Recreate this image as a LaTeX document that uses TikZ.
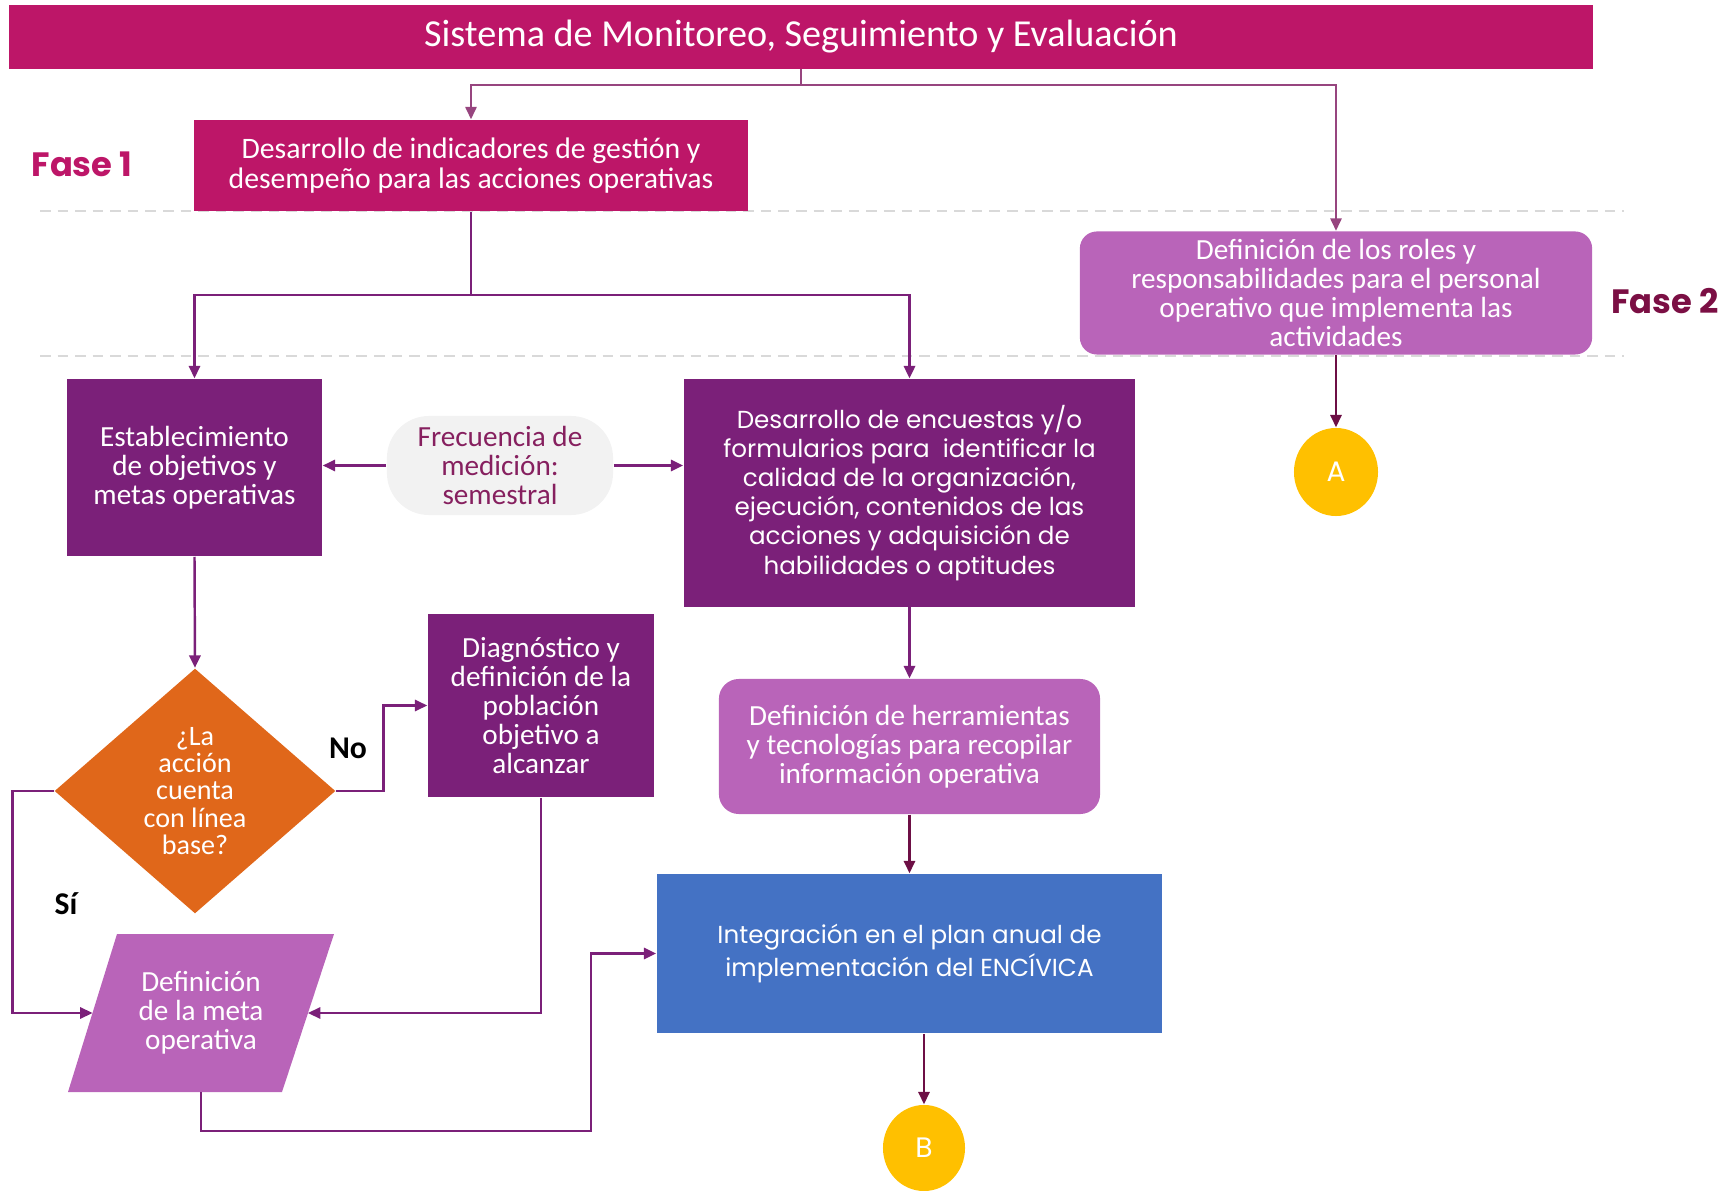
\documentclass[tikz,border=0pt]{standalone}
\usepackage{fontspec}
\setmainfont{Poppins}
\newfontfamily\narrowfont{Carlito}
\usetikzlibrary{shapes.geometric,arrows.meta}
\definecolor{magenta1}{HTML}{BD1668}
\definecolor{purple1}{HTML}{7B2079}
\definecolor{orchid1}{HTML}{B964B9}
\definecolor{blue1}{HTML}{4472C4}
\definecolor{orange1}{HTML}{E0671A}
\definecolor{yellow1}{HTML}{FFC000}
\definecolor{gray1}{HTML}{F2F2F2}
\definecolor{maroon1}{HTML}{7B0F44}
\definecolor{darkline}{HTML}{6D0F45}
\definecolor{topline}{HTML}{97457F}
\definecolor{frectext}{HTML}{86205F}
\tikzset{
  box/.style={align=center,text=white,inner sep=2pt,font=\narrowfont\fontsize{8.3}{8.3}\selectfont},
  wbox/.style={box,font=\fontsize{7}{8.3}\selectfont},
  rbox/.style={box,fill=orchid1,rounded corners=0.17cm},
  conn/.style={ellipse,fill=yellow1,text=white,inner sep=0pt,minimum width=0.84cm,minimum height=0.88cm,font=\fontsize{8}{9}\selectfont},
  fase/.style={font=\bfseries\fontsize{9.6}{12}\selectfont,inner sep=0pt},
  yesno/.style={font=\narrowfont\bfseries\fontsize{9}{10}\selectfont,inner sep=0pt},
  tip/.style={-{Triangle[length=3.5pt,width=3.2pt]}},
  pline/.style={tip,draw=purple1,line width=0.7pt},
  dline/.style={tip,draw=darkline,line width=0.6pt},
  sepline/.style={draw=black!15,line width=0.5pt,dash pattern=on 3pt off 2pt}
}
\begin{document}
\begin{tikzpicture}[x=0.01cm,y=-0.01cm]
\useasboundingbox (0,0) rectangle (1729,1191);
\draw[sepline] (40,211) -- (1624,211);
\draw[sepline] (40,356) -- (1624,356);

\node[box,fill=magenta1,minimum width=15.84cm,minimum height=0.63cm,font=\narrowfont\fontsize{10.85}{12}\selectfont] (title) at (801,37) {Sistema de Monitoreo, Seguimiento y Evaluación};
\node[box,fill=magenta1,minimum width=5.54cm,minimum height=0.91cm,font=\narrowfont\fontsize{8.45}{8.3}\selectfont] (indic) at (471,165.5) {Desarrollo de indicadores de gestión y\\desempeño para las acciones operativas};
\node[fase,text=magenta1] (fase1) at (82,164) {Fase 1};
\node[rbox,minimum width=5.12cm,minimum height=1.23cm] (roles) at (1336,293) {Definición de los roles y\\responsabilidades para el personal\\operativo que implementa las\\actividades};
\node[fase,text=maroon1] (fase2) at (1665,301) {Fase 2};
\node[conn] (circA) at (1336,472) {A};

\node[box,fill=purple1,minimum width=2.55cm,minimum height=1.77cm] (establ) at (194.5,467.5) {Establecimiento\\de objetivos y\\metas operativas};
\node[box,fill=gray1,text=frectext,rounded corners=0.42cm,minimum width=2.26cm,minimum height=0.99cm] (frec) at (500,465.5) {Frecuencia de\\medición:\\semestral};
\node[wbox,fill=purple1,minimum width=4.51cm,minimum height=2.275cm] (encues) at (909.5,492.8) {Desarrollo de encuestas y/o\\formularios para\ \ identificar la\\calidad de la organización,\\ejecución, contenidos de las\\acciones y adquisición de\\habilidades o aptitudes};
\node[wbox,rbox,minimum width=3.81cm,minimum height=1.35cm,rounded corners=0.2cm] (herram) at (909.5,746.5) {Definición de herramientas\\y tecnologías para recopilar\\información operativa};
\node[wbox,fill=blue1,minimum width=5.05cm,minimum height=1.59cm] (integ) at (909.5,953.5) {Integración en el plan anual de\\implementación del ENCÍVICA};
\node[conn,minimum width=0.82cm,minimum height=0.86cm] (circB) at (924,1148) {B};

\node[box,diamond,fill=orange1,inner sep=0pt,aspect=1.15,minimum width=2.81cm,minimum height=2.45cm,font=\narrowfont\fontsize{8}{7.8}\selectfont] (pregunta) at (195,791) {¿La\\acción\\cuenta\\con línea\\base?};
\node[box,fill=purple1,minimum width=2.26cm,minimum height=1.83cm] (diagn) at (541,705.5) {Diagnóstico y\\definición de la\\población\\objetivo a\\alcanzar};
\fill[orchid1] (117,934) -- (334,934) -- (282,1092) -- (68,1092) -- cycle;
\node[box] (meta) at (201,1013) {Definición\\de la meta\\operativa};
\coordinate (metaL) at (92.5,1013);
\coordinate (metaR) at (308,1013);
\coordinate (metaB) at (201,1092);
\node[yesno] (labNo) at (348,748) {No};
\node[yesno] (labSi) at (66,904) {Sí};

\coordinate (t1) at (801,85);
\draw[draw=topline,line width=0.5pt] (title.south) -- (t1);
\draw[tip,draw=topline,line width=0.5pt] (t1) -| (indic.north);
\draw[tip,draw=topline,line width=0.5pt] (t1) -| (roles.north);
\coordinate (t2) at (471,295);
\draw[draw=purple1,line width=0.7pt] (indic.south) -- (t2);
\draw[pline] (t2) -| (establ.north);
\draw[pline] (t2) -| (encues.north);
\draw[dline] (roles.south) -- (circA.north);
\draw[pline] (frec.west) -- (establ.east |- frec.west);
\draw[pline] (frec.east) -- (encues.west |- frec.east);
\draw[pline] (establ.south) -- (pregunta.north);
\draw[pline] (encues.south) -- (herram.north);
\draw[dline] (herram.south) -- (integ.north);
\draw[dline] (circB.north |- integ.south) -- (circB.north);
\draw[pline] (pregunta.east) -- ++(47,0) |- (diagn.west);
\draw[pline] (pregunta.west) -- ++(-41,0) |- (metaL);
\draw[pline] (diagn.south) |- (metaR);
\coordinate (t3) at (591,1131);
\draw[pline] (metaB) |- (t3) |- (integ.west);
\end{tikzpicture}
\end{document}
